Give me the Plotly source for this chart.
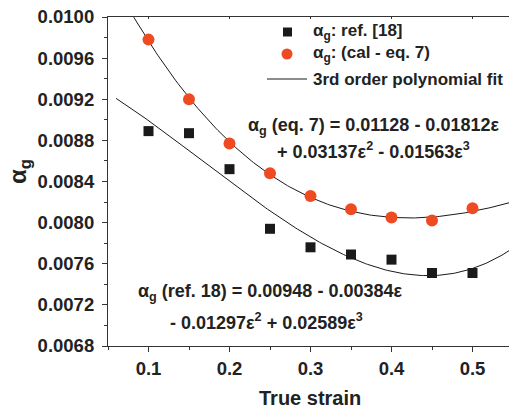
import numpy as np
import plotly.graph_objects as go

# Measured thermal expansion coefficient vs. true strain
strain = [0.10, 0.15, 0.20, 0.25, 0.30, 0.35, 0.40, 0.45, 0.50]
alpha_ref18 = [0.00889, 0.00887, 0.00852, 0.00794, 0.00776, 0.00769, 0.00764, 0.00751, 0.00751]
alpha_cal = [0.00978, 0.00920, 0.00877, 0.00848, 0.00826, 0.00813, 0.00805, 0.00802, 0.00814]

# 3rd order polynomial fit coefficients (c0, c1, c2, c3)
coef_ref18 = [0.00948, -0.00384, -0.01297, 0.02589]
coef_cal = [0.01128, -0.01812, 0.03137, -0.01563]

x_ticks = [0.1, 0.2, 0.3, 0.4, 0.5]
y_ticks = [0.0068, 0.0072, 0.0076, 0.0080, 0.0084, 0.0088, 0.0092, 0.0096, 0.0100]

W, H = 509, 412
ML, MR, MT, MB = 108, 0, 17, 66
PW, PH = W - ML - MR, H - MT - MB

FONT = "Liberation Sans, Arial, sans-serif"
ORANGE = "#EF4B23"
AXC = "#333333"


def px(x):
    return (x - ML) / PW


def py(y):
    return (H - MB - y) / PH


def poly(c, x):
    return c[0] + c[1] * x + c[2] * x ** 2 + c[3] * x ** 3


xfit = np.linspace(0.06, 0.55, 200)

fig = go.Figure()
fig.add_trace(go.Scatter(x=xfit, y=poly(coef_ref18, xfit), mode="lines",
                         line=dict(color="#1a1a1a", width=1), showlegend=False))
fig.add_trace(go.Scatter(x=xfit, y=poly(coef_cal, xfit), mode="lines",
                         line=dict(color="#1a1a1a", width=1), showlegend=False))
fig.add_trace(go.Scatter(x=strain, y=alpha_ref18, mode="markers",
                         marker=dict(symbol="square", size=10, color="#1a1a1a"),
                         showlegend=False))
fig.add_trace(go.Scatter(x=strain, y=alpha_cal, mode="markers",
                         marker=dict(symbol="circle", size=12, color=ORANGE),
                         showlegend=False))

tickfont = dict(family=FONT, size=18.5, color="#222222", weight="bold")

fig.update_layout(
    width=W, height=H,
    margin=dict(l=ML, r=MR, t=MT, b=MB, pad=0),
    paper_bgcolor="white", plot_bgcolor="white",
    showlegend=False,
    xaxis=dict(range=[0.05, 0.05 + PW / 810.0], tickvals=x_ticks,
               ticktext=[f"{v:.1f}" for v in x_ticks],
               ticks="outside", ticklen=5, tickwidth=1, tickcolor=AXC,
               showline=True, linecolor=AXC, linewidth=1.2,
               showgrid=False, zeroline=False, tickfont=tickfont,
               ticklabelstandoff=1,
               minor=dict(dtick=0.05, tick0=0.05, ticks="outside", ticklen=3,
                          tickcolor=AXC, showgrid=False)),
    xaxis2=dict(overlaying="x", matches="x", side="top", showline=True,
                linecolor=AXC, linewidth=1.2, ticks="inside", ticklen=2,
                tickcolor=AXC, tickvals=x_ticks, showticklabels=False,
                showgrid=False, zeroline=False,
                range=[0.05, 0.05 + PW / 810.0]),
    yaxis=dict(range=[0.0068, 0.0100], tickvals=y_ticks,
               ticktext=[f"{v:.4f}" for v in y_ticks],
               ticks="outside", ticklen=5, tickwidth=1, tickcolor=AXC,
               showline=True, linecolor=AXC, linewidth=1.2,
               showgrid=False, zeroline=False, tickfont=tickfont,
               ticklabelstandoff=4,
               minor=dict(dtick=0.0002, tick0=0.0068, ticks="outside",
                          ticklen=3, tickcolor=AXC, showgrid=False)),
)
# empty trace on the top axis so its frame line is drawn
fig.add_trace(go.Scatter(x=[None], y=[None], xaxis="x2", showlegend=False))

ann = []
bold = dict(family=FONT, color="#222222", weight="bold")

# axis titles
ann.append(dict(x=px(310), y=py(398), xref="paper", yref="paper",
                text="True strain", showarrow=False,
                xanchor="center", yanchor="middle",
                font=dict(size=20, **bold)))
ann.append(dict(x=px(19), y=py(172), xref="paper", yref="paper",
                text="α<sub>g</sub>", textangle=-90, showarrow=False,
                xanchor="center", yanchor="middle",
                font=dict(size=24, **bold)))

# legend
legend_rows = [
    (32, "α<sub>g</sub>: ref. [18]"),
    (54, "α<sub>g</sub>: (cal - eq. 7)"),
    (79, "3rd order polynomial fit"),
]
for yy, txt in legend_rows:
    ann.append(dict(x=px(311), y=py(yy), xref="paper", yref="paper",
                    text=txt, showarrow=False, xanchor="left", yanchor="middle",
                    font=dict(size=17, **bold)))

shapes = [
    dict(type="rect", xref="paper", yref="paper",
         x0=px(283), x1=px(292), y0=py(36.5), y1=py(27.5),
         fillcolor="#1a1a1a", line=dict(width=0)),
    dict(type="circle", xref="paper", yref="paper",
         x0=px(281.5), x1=px(292.5), y0=py(59.5), y1=py(48.5),
         fillcolor=ORANGE, line=dict(width=0)),
    dict(type="line", xref="paper", yref="paper",
         x0=px(267), x1=px(307), y0=py(79), y1=py(79),
         line=dict(color="#1a1a1a", width=1)),
]

# fit equations
eqs = [
    (373, 126, "α<sub>g</sub> (eq. 7) = 0.01128 - 0.01812ε"),
    (373, 150, "+ 0.03137ε<sup>2</sup> - 0.01563ε<sup>3</sup>"),
    (270, 292, "α<sub>g</sub> (ref. 18) = 0.00948 - 0.00384ε"),
    (266, 321, "- 0.01297ε<sup>2</sup> + 0.02589ε<sup>3</sup>"),
]
for xx, yy, txt in eqs:
    ann.append(dict(x=px(xx), y=py(yy), xref="paper", yref="paper",
                    text=txt, showarrow=False, xanchor="center",
                    yanchor="middle", font=dict(size=18, **bold)))

fig.update_layout(annotations=ann, shapes=shapes)
fig.write_html("out.html")
